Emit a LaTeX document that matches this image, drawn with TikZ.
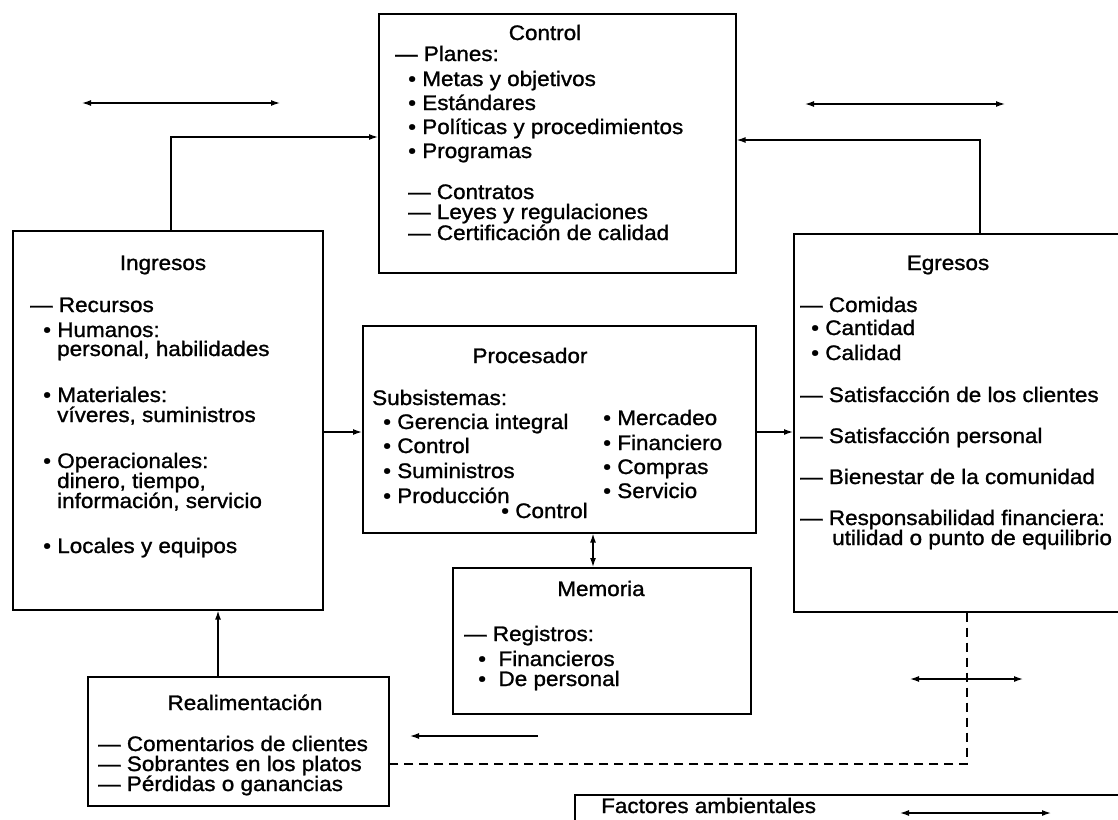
\documentclass[tikz,border=0pt]{standalone}
\usepackage{fontspec}
\setmainfont{Liberation Sans}[FakeStretch=1.07,FakeBold=1.2]
\usetikzlibrary{arrows.meta}
\begin{document}
\begin{tikzpicture}[x=1pt,y=-1pt,
  box/.style={draw, line width=1.6pt, rectangle, inner sep=0pt, anchor=north west},
  txt/.style={anchor=base west, inner sep=0pt, font=\fontsize{21}{24}\selectfont},
  ttl/.style={anchor=base, inner sep=0pt, font=\fontsize{21}{24}\selectfont},
  tip/.tip={Latex[length=9pt,width=6pt]},
  arr/.style={line width=1.3pt, -tip},
  darr/.style={line width=1.3pt, tip-tip},
  dashedline/.style={line width=1.3pt, dash pattern=on 9pt off 6pt}]
\useasboundingbox (0,0) rectangle (1118,819);
\clip (0,0) rectangle (1118,819);

% boxes
\node[box, minimum width=357pt, minimum height=259pt] (ctrl) at (378,13) {};
\node[box, minimum width=310pt, minimum height=379pt] (ingr) at (12,230) {};
\node[box, minimum width=360pt, minimum height=378pt] (egr)  at (793,233) {};
\node[box, minimum width=393pt, minimum height=207pt] (proc) at (362,325) {};
\node[box, minimum width=298pt, minimum height=146pt] (mem)  at (452,567) {};
\node[box, minimum width=301pt, minimum height=129pt] (real) at (87,676) {};
\node[box, minimum width=600pt, minimum height=100pt] (fact) at (574,794) {};

% Control
\node[ttl] (ctrl-t) at (545,40) {Control};
\node[txt] (ctrl-1) at (395,61)  {— Planes:};
\node[txt] (ctrl-2) at (408,86)  {• Metas y objetivos};
\node[txt] (ctrl-3) at (408,110) {• Estándares};
\node[txt] (ctrl-4) at (408,134) {• Políticas y procedimientos};
\node[txt] (ctrl-5) at (408,158) {• Programas};
\node[txt] (ctrl-6) at (408,199) {— Contratos};
\node[txt] (ctrl-7) at (408,219) {— Leyes y regulaciones};
\node[txt] (ctrl-8) at (408,240) {— Certificación de calidad};

% Ingresos
\node[ttl] (ingr-t) at (163,270) {Ingresos};
\node[txt] (ingr-1) at (30,312)  {— Recursos};
\node[txt] (ingr-2) at (43,337)  {• Humanos:};
\node[txt] (ingr-3) at (57,356)  {personal, habilidades};
\node[txt] (ingr-4) at (43,402)  {• Materiales:};
\node[txt] (ingr-5) at (57,422)  {víveres, suministros};
\node[txt] (ingr-6) at (43,468)  {• Operacionales:};
\node[txt] (ingr-7) at (57,488)  {dinero, tiempo,};
\node[txt] (ingr-8) at (57,508)  {información, servicio};
\node[txt] (ingr-9) at (43,553)  {• Locales y equipos};

% Egresos
\node[ttl] (egr-t) at (948,270) {Egresos};
\node[txt] (egr-1) at (800,312) {— Comidas};
\node[txt] (egr-2) at (811,335) {• Cantidad};
\node[txt] (egr-3) at (811,360) {• Calidad};
\node[txt] (egr-4) at (800,402) {— Satisfacción de los clientes};
\node[txt] (egr-5) at (800,443) {— Satisfacción personal};
\node[txt] (egr-6) at (800,484) {— Bienestar de la comunidad};
\node[txt] (egr-7) at (800,525) {— Responsabilidad financiera:};
\node[txt] (egr-8) at (832,545) {utilidad o punto de equilibrio};

% Procesador
\node[ttl] (proc-t) at (530,363) {Procesador};
\node[txt] (proc-1) at (372,405) {Subsistemas:};
\node[txt] (proc-2) at (383,429) {• Gerencia integral};
\node[txt] (proc-3) at (383,453) {• Control};
\node[txt] (proc-4) at (383,478) {• Suministros};
\node[txt] (proc-5) at (383,503) {• Producción};
\node[txt] (proc-6) at (501,518) {• Control};
\node[txt] (proc-7) at (603,425) {• Mercadeo};
\node[txt] (proc-8) at (603,450) {• Financiero};
\node[txt] (proc-9) at (603,474) {• Compras};
\node[txt] (proc-10) at (603,498) {• Servicio};

% Memoria
\node[ttl] (mem-t) at (601,596) {Memoria};
\node[txt] (mem-1) at (464,641) {— Registros:};
\node[txt] (mem-2) at (478,666) {•~ Financieros};
\node[txt] (mem-3) at (478,686) {•~ De personal};

% Realimentacion
\node[ttl] (real-t) at (245,710) {Realimentación};
\node[txt] (real-1) at (98,751) {— Comentarios de clientes};
\node[txt] (real-2) at (98,771) {— Sobrantes en los platos};
\node[txt] (real-3) at (98,791) {— Pérdidas o ganancias};

% Factores ambientales
\node[txt] (fact-t) at (601,813) {Factores ambientales};

% connectors between boxes
\draw[arr] (ingr.north -| 171,0) |- (ctrl.west |- 0,137);
\draw[arr] (egr.north -| 980,0) |- (ctrl.east |- 0,140);
\draw[arr] (ingr.east |- 0,432) -- (proc.west |- 0,432);
\draw[arr] (proc.east |- 0,432) -- (egr.west |- 0,432);
\draw[darr] (proc.south -| 593,0) -- (mem.north -| 593,0);
\draw[arr] (real.north -| 218,0) -- (ingr.south -| 218,0);
\draw[dashedline] (egr.south -| 967,0) |- (real.east |- 0,764);

% free-standing environment arrows
\coordinate (tl-a) at (82,103);   \coordinate (tl-b) at (280,103);
\coordinate (tr-a) at (805,104);  \coordinate (tr-b) at (1005,104);
\coordinate (fb-a) at (538,736);  \coordinate (fb-b) at (410,736);
\coordinate (dr-a) at (910,679);  \coordinate (dr-b) at (1023,679);
\coordinate (fa-a) at (900,813);  \coordinate (fa-b) at (1051,813);
\draw[darr] (tl-a) -- (tl-b);
\draw[darr] (tr-a) -- (tr-b);
\draw[arr]  (fb-a) -- (fb-b);
\draw[darr] (dr-a) -- (dr-b);
\draw[darr] (fa-a) -- (fa-b);
\end{tikzpicture}
\end{document}
